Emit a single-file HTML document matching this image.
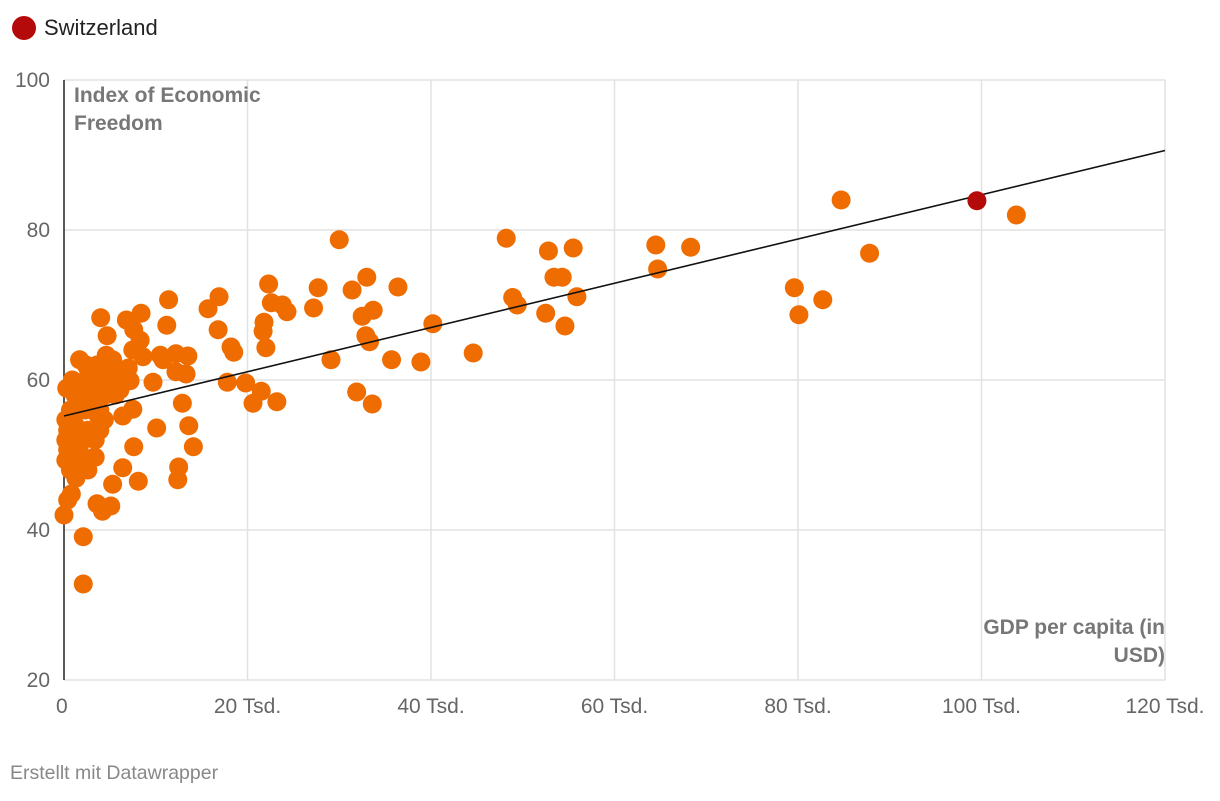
<!DOCTYPE html>
<html><head><meta charset="utf-8"><style>
body{margin:0;background:#fff;font-family:"Liberation Sans",Arial,sans-serif;}
svg text{font-family:"Liberation Sans",Arial,sans-serif;}
</style></head><body>
<svg id="chart" width="1220" height="796">
  <g id="legend">
    <circle cx="24" cy="28" r="12" fill="#b40a0a"/>
    <text x="44" y="35" font-size="22" fill="#222">Switzerland</text>
  </g>
  <g id="grid"></g>
  <g id="marks"></g>
  <text x="74" y="102" font-size="21" font-weight="bold" fill="#777"><tspan x="74">Index of Economic</tspan><tspan x="74" dy="28">Freedom</tspan></text>
  <text x="1165" y="634" font-size="21" font-weight="bold" fill="#777" text-anchor="end"><tspan x="1165">GDP per capita (in</tspan><tspan x="1165" dy="28">USD)</tspan></text>
  <text x="10" y="779" font-size="19.5" fill="#888">Erstellt mit Datawrapper</text>
</svg>
<script>
const xTicks=[0,20,40,60,80,100,120];
const xTickLabels=["0","20 Tsd.","40 Tsd.","60 Tsd.","80 Tsd.","100 Tsd.","120 Tsd."];
const yTicks=[20,40,60,80,100];
const gdp=[103.8,84.7,87.8,79.6,82.7,80.1,64.5,68.3,64.7,48.2,52.8,55.5,53.4,54.3,55.9,48.9,49.4,52.5,54.6,44.6,40.2,38.9,36.4,35.7,30.0,27.7,31.4,33.0,32.5,33.7,32.9,33.3,27.2,29.1,31.9,33.6,22.3,22.6,23.8,24.3,21.8,21.7,22.0,21.5,20.6,23.2,19.8,17.8,18.2,18.5,16.8,16.9,15.7,11.4,11.2,12.2,13.5,12.2,13.3,10.5,10.8,9.7,12.9,13.6,14.1,12.5,12.4,10.1,8.4,8.3,7.6,6.8,8.6,7.5,7.0,6.6,7.2,7.5,6.4,7.6,8.1,6.4,5.3,5.1,4.2,3.6,4.0,4.7,4.6,3.6,2.7,2.1,2.1,0,0.4,0.8,
0.3,0.9,1.2,1.7,2.3,2.8,3.4,3.9,4.5,5.0,0.7,1.5,2.3,3.1,3.7,4.4,0.4,1.2,2.0,2.6,3.4,3.9,0.4,1.1,1.7,2.4,3.1,0.7,1.3,2.0,2.6,3.4,0.2,0.2,0.2,0.9,3.9,5.6,6.1,4.8,5.3,5.9,1.7,2.4];
const freedom=[82.0,84.0,76.9,72.3,70.7,68.7,78.0,77.7,74.8,78.9,77.2,77.6,73.7,73.7,71.1,71.0,70.0,68.9,67.2,63.6,67.5,62.4,72.4,62.7,78.7,72.3,72.0,73.7,68.5,69.3,65.9,65.1,69.6,62.7,58.4,56.8,72.8,70.3,70.0,69.1,67.7,66.5,64.3,58.5,56.9,57.1,59.6,59.7,64.4,63.7,66.7,71.1,69.5,70.7,67.3,63.5,63.2,61.1,60.8,63.3,62.7,59.7,56.9,53.9,51.1,48.4,46.7,53.6,68.9,65.3,66.7,68.0,63.1,64.0,61.6,60.0,59.9,56.1,55.2,51.1,46.5,48.3,46.1,43.2,42.5,43.5,68.3,65.9,63.3,62.0,61.1,39.1,32.8,42.0,44.0,44.8,
58.9,60.0,58.0,59.3,58.7,60.7,59.3,58.7,58.0,59.3,56.0,56.7,56.0,57.3,55.3,54.7,53.3,54.0,52.7,53.3,52.0,53.3,50.7,50.0,51.3,49.1,49.6,48.0,46.9,48.3,48.0,49.7,54.7,52.0,49.3,52.0,56.0,58.0,58.7,60.7,62.7,61.3,62.7,62.0];
const highlightGdp=[99.5];
const highlightFreedom=[83.9];
const trendIntercept=55.2;
const trendSlope=0.295;

const NS="http://www.w3.org/2000/svg";
const X0=64,X1=1165,Y0=680,Y1=80;
const xs=v=>X0+(v-0)/(120-0)*(X1-X0);
const ys=v=>Y0-(v-20)/(100-20)*(Y0-Y1);
function mk(tag,attrs,parent){const e=document.createElementNS(NS,tag);for(const k in attrs)e.setAttribute(k,attrs[k]);parent.appendChild(e);return e;}
const grid=document.getElementById('grid'),marks=document.getElementById('marks');
yTicks.forEach((t,i)=>{
  const l=mk('line',{x1:X0,x2:X1,y1:ys(t),y2:ys(t),stroke:'#e2e2e2','stroke-width':1.5},grid);
  
  
  const tx=mk('text',{x:50,y:ys(t)+7,'font-size':21,fill:'#666','text-anchor':'end'},grid);
  tx.textContent=t;
  
  
});
xTicks.forEach((t,i)=>{
  if(i>0){const l=mk('line',{x1:xs(t),x2:xs(t),y1:Y1,y2:Y0,stroke:'#e2e2e2','stroke-width':1.5},grid);
  
  }
  const tx=mk('text',{x:xs(t),y:713,'font-size':21,fill:'#666','text-anchor':i===0?'start':'middle'},grid);
  if(i===0)tx.setAttribute('x',xs(t)-8);
  tx.textContent=xTickLabels[i];
  
  
});
const ax=mk('line',{x1:X0,x2:X0,y1:Y1,y2:Y0,stroke:'#222','stroke-width':1.5},grid);


gdp.forEach((g,i)=>{
  const c=mk('circle',{cx:xs(g),cy:ys(freedom[i]),r:9.5,fill:'#ef6c00'},marks);
  
  
});
const tl=mk('line',{x1:xs(0),y1:ys(trendIntercept),x2:xs(120),y2:ys(trendIntercept+trendSlope*120),stroke:'#111','stroke-width':1.6},marks);


highlightGdp.forEach((g,i)=>{
  const c=mk('circle',{cx:xs(g),cy:ys(highlightFreedom[i]),r:9.5,fill:'#b40a0a'},marks);
  
  
});
</script>
</body></html>
